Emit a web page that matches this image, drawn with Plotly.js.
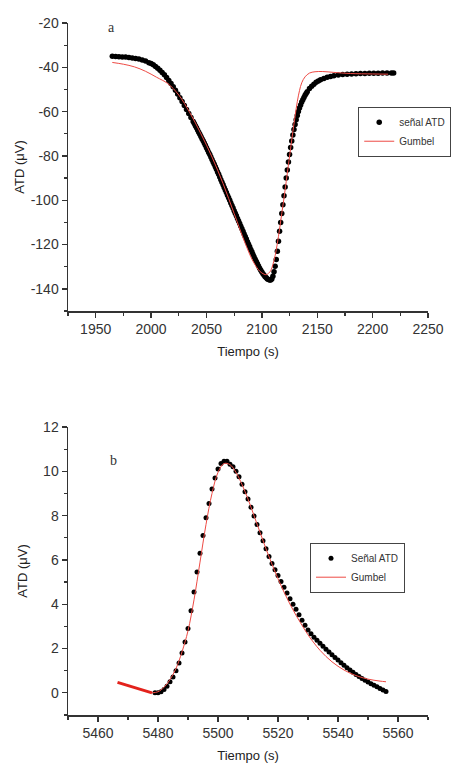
<!DOCTYPE html>
<html>
<head>
<meta charset="utf-8">
<script src="https://cdn.plot.ly/plotly-3.0.1.min.js"></script>
<style>html,body{margin:0;padding:0;background:#fff;}#chart{width:452px;height:763px;}</style>
</head>
<body>
<div id="chart"></div>
<script>
// ---- Panel a data ----
const aTime = [1965,1968,1971,1974,1977,1980,1983,1986,1989,1992,1995,1998,
  2000,2002,2004,2006,2008,2010,2012,2014,2016,2018,2020,2022,2024,2026,2028,2030,2032,2034,2036,2038,
  2039,2040,2041,2042,2043,2044,2045,2046,2047,2048,2049,2050,2051,2052,2053,2054,2055,2056,2057,2058,2059,
  2060,2061,2062,2063,2064,2065,2066,2067,2068,2069,2070,2071,2072,2073,2074,2075,2076,2077,2078,2079,
  2080,2081,2082,2083,2084,2085,2086,2087,2088,2089,2090,2091,2092,2093,2094,2095,2096,2097,2098,2099,
  2100,2101,2102,2103,2104,2105,2106,2107,2108,2109,2110,2111,2112,2113,2114,2115,2116,2117,2118,2119,
  2120,2121,2122,2123,2124,2125,2126,2127,2128,2129,2130,2131,2132,2133,2134,2135,2136,2137,2138,2139,
  2140,2141,2143,2145,2147,2149,2151,2153,2156,2159,2162,2165,2169,2173,2177,2181,2185,2189,2193,2197,
  2201,2205,2209,2213,2217,2219];
const aSignal = [-35.0,-35.1,-35.2,-35.3,-35.4,-35.6,-35.8,-36.0,-36.3,-36.7,-37.2,-37.9,
  -38.3,-38.9,-39.6,-40.4,-41.3,-42.3,-43.4,-44.6,-45.9,-47.3,-48.8,-50.4,-52.0,-53.7,-55.4,-57.2,-59.0,-60.8,-62.6,-64.5,
  -65.4,-66.4,-67.3,-68.3,-69.3,-70.2,-71.2,-72.2,-73.2,-74.2,-75.2,-76.3,-77.3,-78.4,-79.4,-80.5,-81.6,-82.7,-83.8,-84.9,-86.0,
  -87.2,-88.3,-89.5,-90.7,-91.9,-93.0,-94.2,-95.4,-96.5,-97.7,-98.9,-100.0,-101.2,-102.4,-103.5,-104.7,-105.9,-107.0,-108.2,-109.4,
  -110.5,-111.7,-112.9,-114.0,-115.2,-116.4,-117.5,-118.7,-119.9,-121.0,-122.2,-123.3,-124.4,-125.5,-126.6,-127.7,-128.7,-129.7,-130.7,-131.6,
  -132.4,-133.2,-133.9,-134.5,-135.0,-135.5,-135.8,-136.0,-136.0,-135.5,-134.3,-132.3,-129.8,-126.8,-123.0,-118.5,-114.0,-110.0,-106.0,-102.0,
  -98.0,-94.0,-90.0,-86.3,-82.7,-79.3,-76.2,-73.3,-70.6,-68.1,-65.8,-63.7,-61.8,-60.0,-58.4,-57.0,-55.7,-54.6,-53.6,-52.6,
  -51.8,-51.0,-49.6,-48.5,-47.6,-46.8,-46.2,-45.6,-45.0,-44.5,-44.1,-43.8,-43.5,-43.3,-43.1,-43.0,-42.9,-42.8,-42.8,-42.7,
  -42.7,-42.7,-42.6,-42.6,-42.6,-42.6];
const aFitTime = [1965,1975,1985,1995,2005,2015,2025,2035,2045,2055,2065,2075,2085,2092,2098,2102,2104,2106,2108,2110,2112,2114,2116,2118,2120,2122,2124,2126,2128,2130,2132,2134,2136,2139,2143,2148,2155,2165,2180,2200,2214];
const aGumbel = [-37.8,-38.6,-39.8,-41.8,-44.5,-47.3,-52.5,-60.5,-70.0,-80.5,-92.5,-106.0,-119.5,-127.5,-132.0,-133.4,-133.6,-133.0,-131.8,-129.0,-125.0,-119.5,-113.0,-106.0,-99.0,-91.5,-84.0,-76.5,-69.0,-62.0,-55.5,-50.5,-47.0,-44.3,-42.6,-42.0,-41.9,-42.3,-42.8,-43.0,-43.1];

// ---- Panel b data ----
const bTime = [5479,5480,5481,5482,5483,5484,5485,5486,5487,5488,5489,5490,5491,5492,5493,5494,5495,5496,5497,5498,5499,
  5500,5501,5502,5503,5504,5505,5506,5507,5508,5509,5510,5511,5512,5513,5514,5515,5516,5517,5518,5519,
  5520,5521,5522,5523,5524,5525,5526,5527,5528,5529,5530,5531,5532,5533,5534,5535,5536,5537,5538,5539,
  5540,5541,5542,5543,5544,5545,5546,5547,5548,5549,5550,5551,5552,5553,5554,5555,5556];
const bSignal = [0.0,0.0,0.05,0.15,0.3,0.5,0.72,1.0,1.35,1.8,2.3,2.9,3.7,4.55,5.45,6.3,7.1,7.9,8.55,9.2,9.7,
  10.1,10.35,10.45,10.45,10.32,10.2,10.0,9.75,9.42,9.08,8.75,8.38,7.98,7.6,7.23,6.86,6.5,6.15,5.84,5.56,
  5.3,5.03,4.77,4.51,4.25,4.0,3.77,3.52,3.28,3.05,2.84,2.67,2.51,2.37,2.24,2.1,1.97,1.84,1.72,1.6,
  1.48,1.36,1.24,1.13,1.03,0.93,0.83,0.74,0.65,0.57,0.49,0.41,0.34,0.27,0.2,0.13,0.06];
const bFitTime = [5478,5480,5482,5484,5486,5488,5490,5492,5494,5496,5498,5500,5502,5504,5506,5508,5510,5512,5514,5516,5518,5520,5522,5524,5526,5528,5530,5532,5534,5536,5538,5540,5542,5544,5546,5548,5550,5552,5554,5556];
const bGumbel = [0.0,0.05,0.25,0.6,1.1,1.85,2.8,4.2,5.9,7.6,9.0,9.95,10.35,10.3,9.95,9.4,8.75,8.0,7.25,6.5,5.8,5.15,4.55,4.0,3.5,3.05,2.62,2.25,1.92,1.64,1.4,1.2,1.03,0.89,0.78,0.69,0.62,0.57,0.53,0.5];
const bBaseTime = [5466.5,5478];
const bBase = [0.47,0.0];

const xTicksA = [1950,2000,2050,2100,2150,2200,2250];
const yTicksA = [-140,-120,-100,-80,-60,-40,-20];
const xTicksB = [5460,5480,5500,5520,5540,5560];
const yTicksB = [0,2,4,6,8,10,12];

const FONT = 'Liberation Sans, Arial, sans-serif';
const RED = '#ee4a44';

const traces = [
  {x:aTime, y:aSignal, type:'scatter', mode:'markers', name:'señal ATD', xaxis:'x', yaxis:'y',
   marker:{color:'#000', size:5.5}, legend:'legend'},
  {x:aFitTime, y:aGumbel, type:'scatter', mode:'lines', name:'Gumbel', xaxis:'x', yaxis:'y',
   line:{color:RED, width:1, shape:'spline'}, legend:'legend'},
  {x:bTime, y:bSignal, type:'scatter', mode:'markers', name:'Señal ATD', xaxis:'x2', yaxis:'y2',
   marker:{color:'#000', size:5}, legend:'legend2'},
  {x:bFitTime, y:bGumbel, type:'scatter', mode:'lines', name:'Gumbel', xaxis:'x2', yaxis:'y2',
   line:{color:RED, width:1, shape:'spline'}, legend:'legend2'},
  {x:bBaseTime, y:bBase, type:'scatter', mode:'lines', name:'Gumbel base', xaxis:'x2', yaxis:'y2',
   line:{color:'#e3221c', width:3}, showlegend:false}
];

const label = v => String(v); // ASCII hyphen minus, as in the original

function axisBase(extra){
  return Object.assign({
    showline:true, linecolor:'#333', linewidth:1.5, mirror:false,
    showgrid:false, zeroline:false,
    ticks:'outside', ticklen:5, tickwidth:1.3, tickcolor:'#333',
    tickfont:{family:FONT, size:14, color:'#333'}
  }, extra);
}

// plot area spans 68..428 px inside a paper area of 68..452 px
const XDOM = [0, 360/384];

const layout = {
  width:452, height:763,
  margin:{l:68, r:0, t:23, b:48},
  paper_bgcolor:'#fff', plot_bgcolor:'#fff',
  showlegend:true,
  xaxis: axisBase({domain:XDOM, range:[1925,2250], tickvals:xTicksA, ticktext:xTicksA.map(label), anchor:'y',
    minor:{ticks:'outside', dtick:25, tick0:1925, ticklen:3, tickwidth:1.2, tickcolor:'#333'},
    title:{text:'Tiempo (s)', standoff:10, font:{family:FONT, size:13, color:'#222'}}}),
  yaxis: axisBase({domain:[0.5838,1], range:[-150,-20], tickvals:yTicksA, ticktext:yTicksA.map(label), anchor:'x',
    minor:{ticks:'outside', dtick:10, tick0:-20, ticklen:3, tickwidth:1.2, tickcolor:'#333'},
    title:{text:'ATD (μV)', standoff:3, font:{family:FONT, size:13, color:'#222'}}}),
  xaxis2: axisBase({domain:XDOM, range:[5450,5570], tickvals:xTicksB, ticktext:xTicksB.map(label), anchor:'y2',
    minor:{ticks:'outside', dtick:10, tick0:5450, ticklen:3, tickwidth:1.2, tickcolor:'#333'},
    title:{text:'Tiempo (s)', standoff:10, font:{family:FONT, size:13, color:'#222'}}}),
  yaxis2: axisBase({domain:[0,0.4162], range:[-1,12], tickvals:yTicksB, ticktext:yTicksB.map(label), anchor:'x2',
    minor:{ticks:'outside', dtick:1, tick0:0, ticklen:3, tickwidth:1.2, tickcolor:'#333'},
    title:{text:'ATD (μV)', standoff:12, font:{family:FONT, size:13, color:'#222'}}}),
  legend:{x:0.998, y:0.879, xanchor:'right', yanchor:'top', bgcolor:'rgba(255,255,255,0)',
    bordercolor:'#444', borderwidth:1, font:{family:FONT, size:10, color:'#333'},
    itemwidth:30, tracegroupgap:0},
  legend2:{x:242/384, y:0.249, xanchor:'left', yanchor:'top', bgcolor:'rgba(255,255,255,0)',
    bordercolor:'#444', borderwidth:1, font:{family:FONT, size:10, color:'#333'},
    itemwidth:30, tracegroupgap:0},
  annotations:[
    {xref:'paper', yref:'paper', x:43/384, y:0.993, text:'a', showarrow:false,
     font:{family:'Liberation Serif, serif', size:14, color:'#333'}, xanchor:'center', yanchor:'middle'},
    {xref:'paper', yref:'paper', x:45/384, y:0.368, text:'b', showarrow:false,
     font:{family:'Liberation Serif, serif', size:14, color:'#333'}, xanchor:'center', yanchor:'middle'}
  ]
};

Plotly.newPlot('chart', traces, layout, {displayModeBar:false, staticPlot:true});
</script>
</body>
</html>
